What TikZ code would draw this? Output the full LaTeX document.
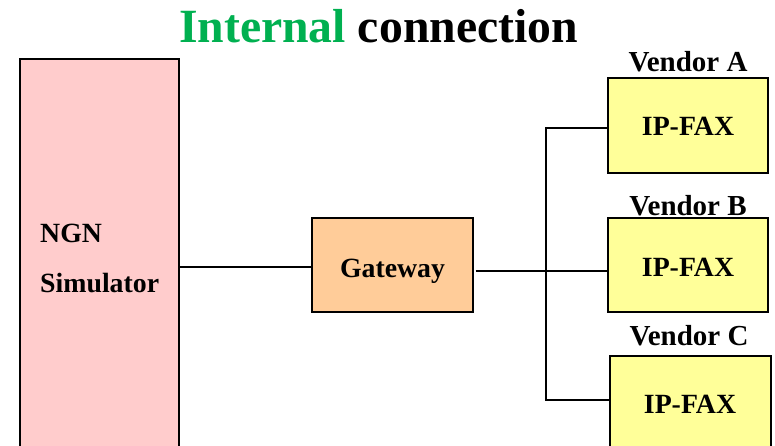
\documentclass[tikz,border=0pt]{standalone}
\usepackage{fontspec}
\setmainfont{Liberation Serif}
\definecolor{ngnpink}{HTML}{FFCCCC}
\definecolor{gworange}{HTML}{FFCC99}
\definecolor{faxyellow}{HTML}{FFFF99}
\definecolor{titlegreen}{HTML}{00B050}
\begin{document}
\begin{tikzpicture}[x=1pt,y=-1pt,
  box/.style={draw, line width=1.3pt, inner sep=0pt},
  lbl/.style={font=\bfseries\fontsize{27.8}{30}\selectfont, anchor=base, inner sep=0pt},
  vlbl/.style={font=\bfseries\fontsize{29}{31}\selectfont, anchor=base, inner sep=0pt},
  conn/.style={line width=1.3pt}]
\useasboundingbox (0,0) rectangle (775,446);
\clip (0,0) rectangle (775,446);
% title
\node[anchor=base, inner sep=0pt, font=\bfseries\fontsize{47.7}{50}\selectfont] (title) at (378.5,43) {\textcolor{titlegreen}{Internal} connection};
% boxes
\node[box, fill=ngnpink, minimum width=159pt, minimum height=450pt] (ngn) at (99.5,284) {};
\node[box, fill=gworange, minimum width=161pt, minimum height=94pt] (gw) at (392.5,265) {};
\node[box, fill=faxyellow, minimum width=160pt, minimum height=95pt] (fa) at (688,125.5) {};
\node[box, fill=faxyellow, minimum width=160pt, minimum height=94pt] (fb) at (688,265) {};
\node[box, fill=faxyellow, minimum width=161pt, minimum height=95pt] (fc) at (690.5,403.5) {};
% labels
\node[lbl, anchor=base west] (ngnt) at (40,242) {NGN};
\node[lbl, anchor=base west] (simt) at (40,292) {Simulator};
\node[lbl] (gwt) at (392.5,277) {Gateway};
\node[lbl] (fat) at (688,136) {IP-FAX};
\node[lbl] (fbt) at (688,276) {IP-FAX};
\node[lbl] (fct) at (690,413) {IP-FAX};
\node[vlbl] (va) at (688,72) {Vendor A};
\node[vlbl] (vb) at (688,215) {Vendor B};
\node[vlbl] (vc) at (689,345) {Vendor C};
% connectors
\coordinate (j) at (546,271);
\coordinate (ja) at (546,128);
\coordinate (jc) at (546,400);
\coordinate (n1) at (178,267);
\draw[conn] (ngn.east |- n1) -- (gw.west |- n1);
\draw[conn] ([xshift=2pt]gw.east |- j) -- (fb.west |- j);
\draw[conn] (fa.west |- ja) -- (ja) -- (jc) -- (fc.west |- jc);
\end{tikzpicture}
\end{document}
